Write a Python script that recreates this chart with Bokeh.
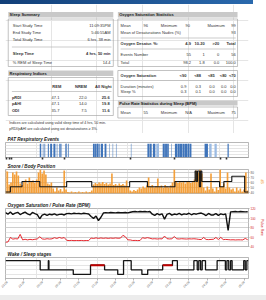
import math
from bokeh.plotting import figure
from bokeh.models import Range1d, LinearAxis, FixedTicker, ColumnDataSource, Grid, Label, Div
from bokeh.layouts import column
from bokeh.embed import file_html
from bokeh.resources import INLINE
from bokeh.core.properties import value

FONT = "Liberation Sans"

# ---------------- table data ----------------
sleep_summary_labels = ["Start Study Time", "End Study Time", "Total Study Time", "Sleep Time", "% REM of Sleep Time"]
sleep_summary_values = ["11:09:35PM", "5:46:55AM", "6 hrs, 38 min", "4 hrs, 50 min", "14.4"]

spo2_mean, spo2_min, spo2_max = "96", "90", "99"
desat_nadir_mean = "93"
desat_bins = ["4-9", "10-20", ">20", "Total"]
desat_events = ["55", "1", "0", "56"]
desat_total_pct = ["98.2", "1.8", "0.0", "100.0"]

resp_cols = ["REM", "NREM", "All Night"]
resp_rows = ["pRDI", "pAHI", "ODI"]
resp_rem = ["47.1", "47.1", "35.7"]
resp_nrem = ["22.0", "14.0", "7.5"]
resp_all = ["25.6", "19.8", "11.6"]
notes = ["Indices are calculated using valid sleep time of 4 hrs, 50 min.",
         "pRDI/pAHI are calculated using oxi desaturations \u2265 3%."]

sat_thresholds = ["<90", "<88", "<85", "<80", "<70"]
sat_duration = ["0.9", "0.3", "0.0", "0.0", "0.0"]
sat_sleep_pct = ["0.3", "0.1", "0.0", "0.0", "0.0"]

pulse_mean, pulse_min, pulse_max = "55", "N/A", "75"

# ---------------- time series data (minutes from study start) ----------------
T_END = 397.3
tick_min = [0, 30, 60, 90, 120, 150, 180, 210, 240, 270, 300, 330, 360, 390]
tick_labels = ["23:09", "23:39", "00:09", "00:39", "01:09", "01:39", "02:09",
               "02:39", "03:09", "03:39", "04:09", "04:39", "05:09", "05:39"]

pat_start = [56, 61, 63.7, 69.2, 73, 78.3, 83.8, 88, 91.6, 97.8, 102,
             143, 146.4, 149.4, 151.9, 155.7, 162, 169.6, 175.2, 180.6, 205,
             232, 235.9, 241, 246.5, 257, 260.9, 264.3, 270.6,
             277, 281.4, 285.3, 289.4, 293.3, 297.4, 300.9,
             325.5, 333, 341.7, 363]
pat_end = [58.4, 62, 64.9, 70.9, 76.2, 81.6, 84.8, 90.3, 92.4, 100, 103.3,
           146, 149, 151.5, 154, 159.4, 165, 170.4, 176, 181.4, 205.8,
           235.5, 239, 245, 251, 260.5, 264, 267, 271.4,
           281, 285, 289, 293, 297, 300.5, 304,
           331, 337, 345.4, 365]
pat_type = ["O", "O", "O", "O", "O", "O", "O", "O", "O", "O", "O",
            "O", "O", "O", "O", "O", "O", "O", "O", "O", "O",
            "O", "O", "O", "C", "O", "O", "O", "O",
            "O", "O", "O", "O", "O", "O", "O",
            "O", "C", "C", "O"]
pat_marks = [2, 6, 10, 60, 97, 204, 277, 352, 362]

snore_db = [84, 82, 56, 60, 80, 76, 82, 74, 58, 55, 62, 66, 58, 70, 61, 64, 59, 66, 80, 86,
            78, 84, 76, 58, 56, 60, 48, 42, 50, 44, 47, 42, 84, 46, 41, 40, 42, 40, 41, 40,
            42, 40, 41, 40, 42, 40, 41, 44, 56, 59, 57, 60, 58, 61, 57, 59, 56, 58, 78, 55,
            57, 54, 58, 55, 57, 54, 64, 52, 44, 42, 45, 43, 46, 50, 48, 52, 49, 54, 70, 52,
            55, 50, 53, 68, 51, 54, 49, 55, 52, 50, 54, 60, 86, 62, 59, 63, 60, 62, 58, 61,
            63, 59, 62, 66, 84, 80, 86, 78, 50, 44, 52, 46, 78, 48, 42, 51, 45, 86, 52, 58,
            48, 80, 50, 46, 48, 42, 50, 44, 48, 42, 46, 80, 44]
snore_t = [i * 3 for i in range(len(snore_db))]
snore_ticks = [40, 50, 60, 70, 80]

pos_start = [0, 8, 27, 56, 100, 141, 203, 232, 277, 310, 312, 314, 317, 319, 321, 350, 357, 370, 391]
pos_level = [0, 1, 2, 1, 2, 1, 2, 1, 2, 4, 2, 4, 1, 4, 2, 1, 2, 3, 0]

spo2 = [97.8, 97.0, 98.2, 96.9, 97.6, 98.0, 96.8, 97.5, 98.1, 97.2,
        96.6, 97.9, 97.3, 96.8, 94.6, 96.5, 97.1, 96.4, 97.0, 96.7,
        97.2, 96.5, 96.9, 97.0, 96.6, 97.3, 97.4, 97.2, 97.5, 97.3,
        97.4, 97.2, 97.5, 97.3, 97.1, 95.8, 94.8, 96.0, 93.6, 95.4,
        97.6, 97.8, 97.7, 97.9, 97.8, 97.7, 97.9, 97.8, 97.8, 97.9,
        97.7, 98.0, 98.3, 98.4, 98.2, 98.4, 98.3, 98.4, 98.2, 98.4,
        97.0, 96.4, 97.3, 96.7, 97.2, 94.4, 96.9, 97.4, 96.5, 97.1,
        96.8, 97.4, 96.6, 97.2, 96.9, 97.5, 96.7, 97.3, 97.0, 97.4,
        97.6, 97.0, 96.3, 97.4, 96.6, 96.6, 97.3, 96.4, 97.2, 96.8,
        97.1, 88.5, 98.2, 98.3, 98.4, 98.2, 98.4, 98.3, 98.2, 98.3]
pulse = [49.0, 49.5, 59.0, 55.5, 56.5, 55.8, 65.5, 54.0, 55.2, 54.0,
         55.0, 54.3, 55.1, 56.0, 60.5, 56.0, 55.3, 56.4, 55.7, 56.2,
         58.5, 57.0, 59.0, 57.4, 58.8, 53.0, 52.5, 52.8, 52.4, 52.6,
         52.5, 52.7, 52.3, 52.6, 52.5, 57.8, 56.9, 58.2, 57.0, 58.0,
         57.2, 57.9, 57.1, 57.8, 57.3, 58.0, 57.4, 57.7, 63.5, 60.5,
         54.0, 53.8, 52.6, 52.8, 52.5, 52.7, 58.5, 57.3, 58.6, 57.5,
         56.0, 56.4, 55.8, 56.3, 56.0, 62.0, 56.5, 55.9, 56.3, 61.0,
         56.2, 55.8, 56.4, 56.0, 55.7, 56.2, 55.9, 56.3, 55.8, 55.0,
         54.6, 59.0, 54.8, 54.5, 54.9, 55.2, 59.0, 54.7, 59.2, 54.6,
         54.9, 54.5, 54.0, 54.2, 53.8, 54.1, 54.0, 53.9, 57.0, 54.2]
oxi_t = [i * 4 for i in range(len(spo2))]
pulse_ticks = [40, 60, 80, 100, 120]

stage_start = [0, 56.7, 70, 71, 110.8, 139, 162, 183.5, 193, 205.5, 223, 232.5, 257, 273, 281,
               308, 313.5, 316, 319, 321.6, 327, 346, 359.5, 362, 365, 368, 370.5, 389.5, 392, 394.6]
stage_name = ["W", "L", "W", "L", "D", "R", "L", "D", "W", "L", "D", "L", "R", "W", "L",
              "W", "L", "W", "L", "W", "L", "W", "L", "W", "L", "W", "L", "W", "L", "W"]
stage_code = {"W": 3, "R": 2, "L": 1, "D": 0}

# ---------------- banner (HTML strip with gradient) ----------------
banner = Div(text="", width=266, height=4,
             styles={"background": "linear-gradient(to right, #123f78 0%, #2a69ad 95%, #ffffff 95.2%)",
                     "margin": "0", "padding": "0"})

# ---------------- top tables ----------------
FS = "4px"
HDR = "#c9c9c9"
BOXC = "#9a9a9a"
TXT = "#333333"

top = figure(width=266, height=129, x_range=Range1d(0, 266), y_range=Range1d(133, 4),
             output_backend="svg", toolbar_location=None, title=None,
             x_axis_location=None, y_axis_location=None, min_border=0)
top.outline_line_color = None


def txt(x, y, s, align="left", bold=False, size=FS, color=TXT):
    top.text(x=[x], y=[y], text=[s], text_align=align, text_baseline="middle",
             text_font=value(FONT), text_font_size=size,
             text_font_style="bold" if bold else "normal", text_color=color)


def header(x0, x1, y0, y1, label):
    top.quad(left=[x0], right=[x1], top=[y0], bottom=[y1], fill_color=HDR, line_color=None)
    txt(x0 + 1.5, (y0 + y1) / 2 + 0.2, label, bold=True, color="#222222")


def box(x0, x1, y0, y1):
    top.quad(left=[x0], right=[x1], top=[y0], bottom=[y1], fill_color=None,
             line_color=BOXC, line_width=0.6)


def sep(x0, x1, y):
    top.segment(x0=[x0], y0=[y], x1=[x1], y1=[y], line_color="#a8a8a8", line_width=0.6)


# Sleep summary
header(3, 118, 11.5, 17, "Sleep Summary")
box(3, 118, 18.5, 66)
ss_y = [25, 32, 39, 53, 61.5]
for i, (lab, val) in enumerate(zip(sleep_summary_labels, sleep_summary_values)):
    b = (i == 3)
    txt(8, ss_y[i], lab, bold=b)
    txt(115, ss_y[i], val, align="right", bold=b)
sep(7, 116, 46.5)

# Oxygen saturation statistics
header(123, 254, 11.5, 17, "Oxygen Saturation Statistics")
box(123, 254, 18.5, 66)
txt(126, 25, "Mean"); txt(156, 25, spo2_mean, "right")
txt(170, 25, "Minimum"); txt(202, 25, spo2_min, "right")
txt(221, 25, "Maximum"); txt(252, 25, spo2_max, "right")
txt(126, 32, "Mean of Desaturations Nadirs (%)"); txt(252, 32, desat_nadir_mean, "right")
sep(126, 252, 37.5)
dcols = [203, 218, 234, 252]
txt(126, 43, "Oxygen Desatur. %:", bold=True)
for c, s in zip(dcols, desat_bins):
    txt(c, 43, s, "right", bold=True)
sep(126, 252, 48.5)
txt(126, 54, "Events Number")
for c, s in zip(dcols, desat_events):
    txt(c, 54, s, "right")
txt(126, 61.5, "Total")
for c, s in zip(dcols, desat_total_pct):
    txt(c, 61.5, s, "right")

# Respiratory indices
header(3, 118, 70, 75.5, "Respiratory Indices")
box(3, 118, 77, 115)
hcols = [61, 89, 116]
vcols = [59, 89, 114]
for c, s in zip(hcols, resp_cols):
    txt(c, 86, s, "right", bold=True)
sep(7, 116, 91)
ry = [96.5, 103, 109.5]
for i, lab in enumerate(resp_rows):
    txt(7, ry[i], lab, bold=True)
    txt(vcols[0], ry[i], resp_rem[i], "right")
    txt(vcols[1], ry[i], resp_nrem[i], "right")
    txt(vcols[2], ry[i], resp_all[i], "right", bold=True)
txt(4, 122.5, notes[0], size="3.6px")
txt(4, 128, notes[1], size="3.6px")

# Oxygen saturation durations
box(123, 254, 70, 96)
scols = [198, 214, 229, 242, 252]
txt(126, 75, "Oxygen Saturation", bold=True)
for c, s in zip(scols, sat_thresholds):
    txt(c, 75, s, "right", bold=True)
sep(126, 252, 80)
txt(126, 85.5, "Duration (minutes)")
for c, s in zip(scols, sat_duration):
    txt(c, 85.5, s, "right")
txt(126, 91, "Sleep %")
for c, s in zip(scols, sat_sleep_pct):
    txt(c, 91, s, "right")

# Pulse rate statistics
header(123, 254, 100, 105, "Pulse Rate Statistics during Sleep (BPM)")
box(123, 254, 106.5, 117.5)
txt(126, 112, "Mean"); txt(156, 112, pulse_mean, "right")
txt(170, 112, "Minimum"); txt(204, 112, pulse_min, "right")
txt(221, 112, "Maximum"); txt(252, 112, pulse_max, "right")

# ---------------- chart panels ----------------
xr = Range1d(0, T_END)


def panel(height, mt, mb, title_text, yr):
    p = figure(width=266, height=height, x_range=xr, y_range=yr, output_backend="svg",
               toolbar_location=None, x_axis_location=None, y_axis_location=None,
               min_border_left=5, min_border_right=16, min_border_top=mt, min_border_bottom=mb,
               title=title_text)
    p.outline_line_color = "#9a9a9a"
    p.outline_line_width = 0.7
    p.title.text_font = FONT
    p.title.text_font_size = "4.6px"
    p.title.text_font_style = "bold italic"
    p.title.text_color = "#222222"
    p.title.align = "left"
    p.title.offset = 2
    p.title.standoff = 1
    return p


def style_axis(ax, size="3px", color="#555555"):
    ax.major_label_text_font = FONT
    ax.major_label_text_font_size = size
    ax.major_label_text_color = color
    ax.major_label_standoff = 1
    ax.major_tick_in = 0
    ax.major_tick_out = 1
    ax.minor_tick_in = 0
    ax.minor_tick_out = 0
    ax.axis_line_color = None
    ax.major_tick_line_color = "#888888"
    ax.major_tick_line_width = 0.6
    ax.axis_label_text_font = FONT
    ax.axis_label_text_font_style = "normal"


# PAT respiratory events
pat = panel(28, 9, 4, "PAT Respiratory Events", Range1d(0, 1))
pat_src = ColumnDataSource(dict(left=pat_start, right=pat_end,
                                color=["#3f74ba" if t == "O" else "#9bbbe3" for t in pat_type]))
pat.quad(left="left", right="right", bottom=0, top=0.92, fill_color="color", line_color=None, source=pat_src)
pax = LinearAxis(ticker=FixedTicker(ticks=pat_marks))
style_axis(pax)
pax.major_label_text_font_size = "1px"
pax.major_label_text_alpha = 0
pax.major_label_standoff = 0
pax.major_tick_out = 2
pax.major_tick_line_width = 1.6
pax.major_tick_line_color = "#333333"
pax.axis_line_color = "#9a9a9a"
pax.axis_line_width = 0.7
pat.add_layout(pax, "below")
for lab, yv in [("Central", 0.4), ("Obstruct.", 0.06)]:
    pat.add_layout(Label(x=T_END, y=yv, x_offset=2, text=lab, text_font=FONT,
                         text_font_size="2.8px", text_color="#666666", text_baseline="middle"))

# Snore / body position
sn = panel(35, 8, 3, "Snore / Body Position", Range1d(38, 86))
sn.extra_y_ranges = {"pos": Range1d(-0.3, 4.3)}
sn.add_layout(Grid(dimension=1, ticker=FixedTicker(ticks=snore_ticks),
                   grid_line_color="#b8b8b8", grid_line_width=0.5))
sn.vbar(x=snore_t, width=2.7, top=snore_db, bottom=38, fill_color="#f39b30",
        line_color=None, fill_alpha=0.95)
sn.step(x=pos_start + [T_END], y=pos_level + [pos_level[-1]], mode="after",
        y_range_name="pos", line_color="#141414", line_width=1.1)
sax = LinearAxis(ticker=FixedTicker(ticks=snore_ticks), axis_label="dB")
style_axis(sax)
sax.axis_label_text_font_size = "3.5px"
sax.axis_label_text_color = "#f0901c"
sax.axis_label_standoff = 3
sn.add_layout(sax, "right")

# Oxygen saturation / pulse rate
ox = panel(52, 12, 2, "Oxygen Saturation / Pulse Rate (BPM)", Range1d(40, 120))
ox.extra_y_ranges = {"spo2": Range1d(80, 100)}
ox.add_layout(Grid(dimension=1, ticker=FixedTicker(ticks=[60, 80, 100]),
                   grid_line_color="#b8b8b8", grid_line_width=0.5))
ox.line(x=oxi_t, y=pulse, line_color="#e3141c", line_width=0.9)
ox.line(x=oxi_t, y=spo2, y_range_name="spo2", line_color="#111111", line_width=1.4)
oax = LinearAxis(ticker=FixedTicker(ticks=pulse_ticks), axis_label="Pulse Rate")
style_axis(oax, color="#d02020")
oax.axis_label_text_font_size = "3.5px"
oax.axis_label_text_color = "#d02020"
oax.axis_label_standoff = 1
ox.add_layout(oax, "right")

# Wake / sleep stages
st = panel(47, 9, 17, "Wake / Sleep stages", Range1d(-0.9, 3.7))
st_y = [stage_code[s] for s in stage_name]
st.step(x=stage_start + [T_END], y=st_y + [st_y[-1]], mode="after",
        line_color="#141414", line_width=1.3)
rem_x0, rem_x1, rem_y = [], [], []
for i, s in enumerate(stage_name):
    if s == "R":
        rem_x0.append(stage_start[i])
        rem_x1.append(stage_start[i + 1] if i + 1 < len(stage_start) else T_END)
        rem_y.append(stage_code["R"])
st.segment(x0=rem_x0, y0=rem_y, x1=rem_x1, y1=rem_y, line_color="#c00000", line_width=1.8)
tax = LinearAxis(ticker=FixedTicker(ticks=tick_min),
                 major_label_overrides={t: l for t, l in zip(tick_min, tick_labels)})
style_axis(tax)
tax.major_label_orientation = math.pi / 4
tax.major_tick_out = 2
st.add_layout(tax, "below")

# bottom grey band (HTML strip)
band = Div(text="", width=266, height=5,
           styles={"background-color": "#ececec", "margin": "0", "padding": "0"})

layout = column(banner, top, pat, sn, ox, st, band, spacing=0)
open("out.html", "w").write(file_html(layout, INLINE))
